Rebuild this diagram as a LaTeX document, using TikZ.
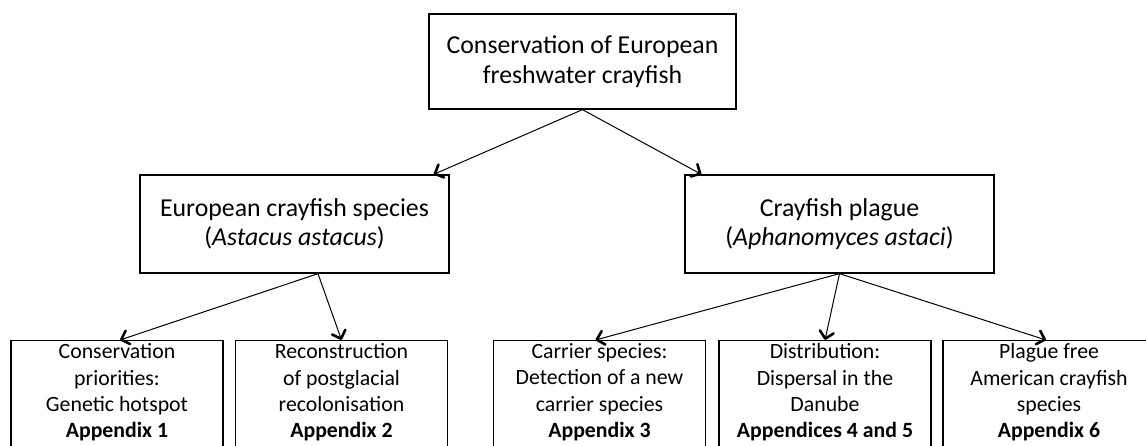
\documentclass[tikz,border=0pt]{standalone}
\usepackage{fontspec}
\setmainfont{Carlito}
\usetikzlibrary{arrows.meta}

\tikzset{
    topbox/.style={draw, line width=1.3pt, minimum width=307pt, minimum height=95pt,
        align=center, font=\fontsize{25.8}{29.5}\selectfont},
    midbox/.style={draw, line width=1.3pt, minimum width=309pt, minimum height=98pt,
        align=center, font=\fontsize{25.8}{28.5}\selectfont},
    leafbox/.style={draw, line width=1.3pt, minimum width=212pt, minimum height=130pt, anchor=north},
    leaftext/.style={anchor=north, inner sep=3.5pt, align=center, font=\fontsize{21.8}{26.3}\selectfont},
    arr/.style={line width=1pt, -{Straight Barb[length=7pt,width=14pt,line width=2.6pt,round]}}
}

\begin{document}
\begin{tikzpicture}[x=1pt,y=-1pt]

    % Fix the size of the picture
    \useasboundingbox (0,0) rectangle (1146,446);
    \clip (0,0) rectangle (1146,446);

    % Draw the top box
    \node[topbox] (cons) at (582.5,61.5) {Conservation of European\\freshwater crayfish};

    % Draw the two middle boxes
    \node[midbox] (astacus) at (294.5,224) {European crayfish species\\(\textit{Astacus astacus})};
    \node[midbox] (plague) at (839.5,224) {Crayfish plague\\(\textit{Aphanomyces astaci})};

    % Draw the bottom boxes, cut off by the lower edge
    \node[leafbox] (hotspot) at (117,340) {};
    \node[leafbox] (recol) at (341.5,340) {};
    \node[leafbox] (carrier) at (599.5,340) {};
    \node[leafbox] (danube) at (825,340) {};
    \node[leafbox] (free) at (1049,340) {};

    % Add the texts of the bottom boxes
    \node[leaftext] (hotspottext) at (hotspot.north) {Conservation\\priorities:\\Genetic hotspot\\\textbf{Appendix 1}};
    \node[leaftext] (recoltext) at (recol.north) {Reconstruction\\of postglacial\\recolonisation\\\textbf{Appendix 2}};
    \node[leaftext] (carriertext) at (carrier.north) {Carrier species:\\Detection of a new\\carrier species\\\textbf{Appendix 3}};
    \node[leaftext] (danubetext) at (danube.north) {Distribution:\\Dispersal in the\\Danube\\\textbf{Appendices 4 and 5}};
    \node[leaftext] (freetext) at (free.north) {Plague free\\American crayfish\\species\\\textbf{Appendix 6}};

    % Draw the arrows from the top box
    \draw[arr] (cons.south) -- ([xshift=-16pt]astacus.north east);
    \draw[arr] (cons.south) -- ([xshift=17pt]plague.north west);

    % Draw the arrows from the middle boxes
    \draw[arr] ([xshift=23.5pt]astacus.south) -- ([xshift=3pt]hotspot.north);
    \draw[arr] ([xshift=23.5pt]astacus.south) -- (recol.north);
    \draw[arr] (plague.south) -- ([xshift=-4pt]carrier.north);
    \draw[arr] (plague.south) -- (danube.north);
    \draw[arr] (plague.south) -- ([xshift=-3pt]free.north);

\end{tikzpicture}
\end{document}
